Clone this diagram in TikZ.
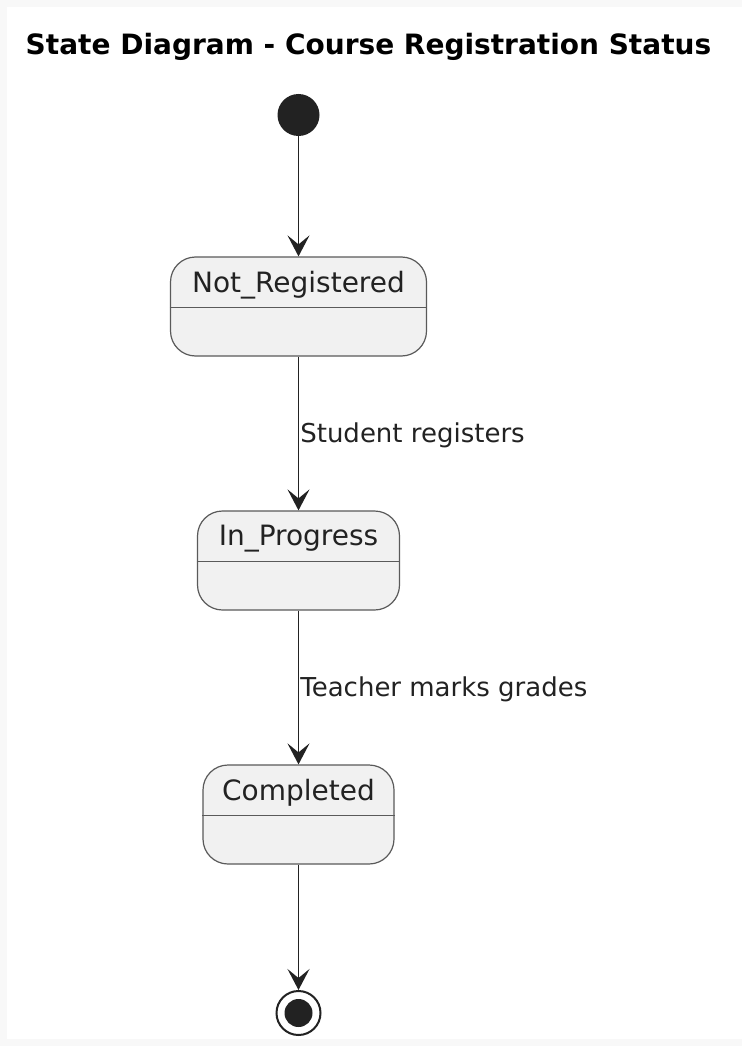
\documentclass[tikz,border=0pt]{standalone}
\usepackage{fontspec}
\setmainfont{DejaVu Sans}
\usetikzlibrary{arrows.meta}

\definecolor{pagegray}{HTML}{F8F8F8}
\definecolor{statefill}{HTML}{F1F1F1}
\definecolor{stateline}{HTML}{5A5A5A}
\definecolor{inkline}{HTML}{222222}

\tikzset{
  statebox/.style={draw=stateline, fill=statefill, line width=1.2pt, rounded corners=25pt, minimum height=99pt},
  statename/.style={font=\fontsize{28}{32}\selectfont, text=inkline, inner sep=0pt},
  translabel/.style={font=\fontsize{26}{30}\selectfont, text=inkline, inner sep=1pt, yshift=-2pt},
  trans/.style={draw=inkline, line width=1.6pt, -{Stealth[length=21pt, width=22pt, inset=9pt]}}
}

\begin{document}
\begin{tikzpicture}[x=1pt, y=-1pt]
    % Page and margins
    \useasboundingbox (0,0) rectangle (742,1046);
    \fill[pagegray] (0,0) rectangle (742,1046);
    \fill[white] (7,7) rectangle (742,1039);

    \node[font=\bfseries\fontsize{28}{32}\selectfont] (title) at (368.5,47) {State Diagram - Course Registration Status};

    % Initial pseudo state
    \node[circle, fill=inkline, minimum size=42pt, inner sep=0pt] (start) at (298.5,115) {};

    % States
    \node[statebox, minimum width=256pt] (notreg) at (298.5,306.5) {};
    \node[statename] (notregname) at (298.5,285) {Not\_Registered};
    \draw[stateline, line width=1.2pt] ([yshift=-51pt]notreg.north west) -- ([yshift=-51pt]notreg.north east);

    \node[statebox, minimum width=202pt] (inprog) at (298.5,560.5) {};
    \node[statename] (inprogname) at (298.5,539) {In\_Progress};
    \draw[stateline, line width=1.2pt] ([yshift=-51pt]inprog.north west) -- ([yshift=-51pt]inprog.north east);

    \node[statebox, minimum width=191pt] (done) at (298.5,814.5) {};
    \node[statename] (donename) at (298.5,793) {Completed};
    \draw[stateline, line width=1.2pt] ([yshift=-51pt]done.north west) -- ([yshift=-51pt]done.north east);

    % Final pseudo state
    \node[circle, draw=inkline, line width=2pt, fill=white, minimum size=44pt, inner sep=0pt] (finish) at (298.5,1013) {};
    \node[circle, fill=inkline, minimum size=28pt, inner sep=0pt] (finishdot) at (298.5,1013) {};

    % Transitions
    \draw[trans] (start) -- (notreg);
    \draw[trans] (notreg) -- node[translabel, right] (lblreg) {Student registers} (inprog);
    \draw[trans] (inprog) -- node[translabel, right] (lblgrade) {Teacher marks grades} (done);
    \draw[trans] (done) -- (finish);
\end{tikzpicture}
\end{document}
